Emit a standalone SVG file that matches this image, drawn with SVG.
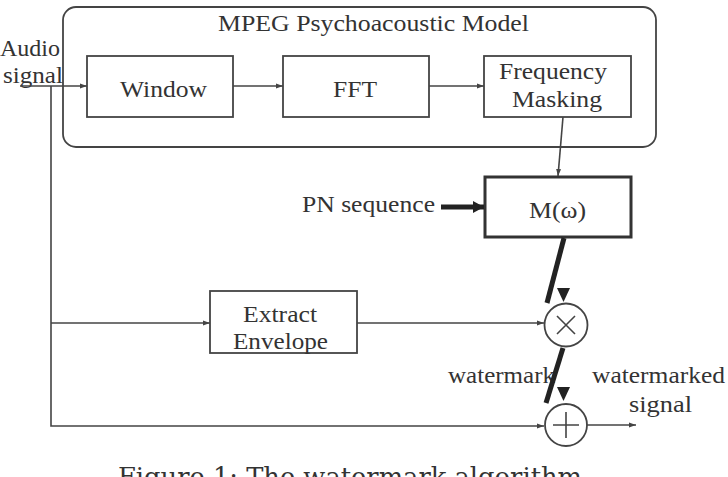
<svg xmlns="http://www.w3.org/2000/svg" width="728" height="477" viewBox="0 0 728 477">
<defs>
<style>
.t{font-family:"Liberation Serif","Times New Roman",serif;font-size:23px;fill:#333}
.cap{font-family:"DejaVu Serif","Liberation Serif",serif;font-size:26px;fill:#333}
.box{fill:none;stroke:#444;stroke-width:1.8}
.thickbox{fill:none;stroke:#333;stroke-width:3}
.ln{fill:none;stroke:#444;stroke-width:1.6}
.thick{fill:none;stroke:#222;stroke-width:5}
.head{fill:#222}
</style>
<marker id="a" markerUnits="userSpaceOnUse" markerWidth="8" markerHeight="6" refX="7" refY="3" orient="auto"><path d="M0,0.5 L7,3 L0,5.5 z" fill="#444"/></marker>
<marker id="ta" markerUnits="userSpaceOnUse" markerWidth="12" markerHeight="12" refX="11" refY="6" orient="auto"><path d="M0,0 L11,6 L0,12 z" fill="#222"/></marker>
</defs>
<rect width="728" height="477" fill="#fff"/>

<g id="psycho-model">
<rect x="63" y="7" width="593" height="140" rx="13" class="box"/>
<text class="t" x="218" y="31" textLength="311" lengthAdjust="spacingAndGlyphs">MPEG Psychoacoustic Model</text>
</g>
<g id="audio-label">
<text class="t" x="0" y="56" textLength="60" lengthAdjust="spacingAndGlyphs">Audio</text>
<text class="t" x="3" y="83" textLength="60" lengthAdjust="spacingAndGlyphs">signal</text>
</g>
<g id="window">
<rect x="87" y="56" width="146" height="61" class="box"/>
<text class="t" x="120" y="97" textLength="87" lengthAdjust="spacingAndGlyphs">Window</text>
</g>
<g id="fft">
<rect x="283" y="56" width="146" height="61" class="box"/>
<text class="t" x="333" y="97" textLength="44" lengthAdjust="spacingAndGlyphs">FFT</text>
</g>
<g id="freq-masking">
<rect x="484" y="56" width="147" height="61" class="box"/>
<text class="t" x="499" y="79" textLength="108" lengthAdjust="spacingAndGlyphs">Frequency</text>
<text class="t" x="512" y="107" textLength="90" lengthAdjust="spacingAndGlyphs">Masking</text>
</g>
<g id="pn-label">
<text class="t" x="302" y="212" textLength="133" lengthAdjust="spacingAndGlyphs">PN sequence</text>
</g>
<g id="m-omega">
<rect x="485" y="177" width="146" height="60" class="thickbox"/>
<text class="t" x="529" y="218" textLength="57" lengthAdjust="spacingAndGlyphs">M(ω)</text>
</g>
<g id="extract-envelope">
<rect x="210" y="291" width="147" height="62" class="box"/>
<text class="t" x="243" y="322" textLength="74" lengthAdjust="spacingAndGlyphs">Extract</text>
<text class="t" x="233" y="349" textLength="95" lengthAdjust="spacingAndGlyphs">Envelope</text>
</g>
<g id="multiply">
<circle cx="566" cy="325" r="21.5" class="box"/>
<path d="M557,316 L575,334 M575,316 L557,334" class="ln"/>
</g>
<g id="add">
<circle cx="566" cy="425" r="21" class="box"/>
<path d="M566,412 V438 M553,425 H579" class="ln"/>
</g>
<g id="labels">
<text class="t" x="448" y="383" textLength="107" lengthAdjust="spacingAndGlyphs">watermark</text>
<text class="t" x="592" y="383" textLength="133" lengthAdjust="spacingAndGlyphs">watermarked</text>
<text class="t" x="629" y="412" textLength="63" lengthAdjust="spacingAndGlyphs">signal</text>
</g>

<g id="connectors">
<path d="M20,86 H87" class="ln" marker-end="url(#a)"/>
<path d="M51,86 V426 H544" class="ln" marker-end="url(#a)"/>
<path d="M233,86 H283" class="ln" marker-end="url(#a)"/>
<path d="M429,86 H484" class="ln" marker-end="url(#a)"/>
<path d="M563,117 L558,176" class="ln" marker-end="url(#a)"/>
<path d="M441,207 H484" class="thick" marker-end="url(#ta)"/>
<path d="M564,238 L547,303" class="thick"/>
<polygon points="557,288 570,288 563.5,302" class="head"/>
<path d="M51,323 H210" class="ln" marker-end="url(#a)"/>
<path d="M357,323 H544" class="ln" marker-end="url(#a)"/>
<path d="M563,348 L546,403" class="thick"/>
<polygon points="557,387 570,387 563.5,401" class="head"/>
<path d="M587,425 H636" class="ln" marker-end="url(#a)"/>
</g>

<g id="caption">
<text class="cap" x="118" y="486" textLength="464" lengthAdjust="spacingAndGlyphs">Figure 1: The watermark algorithm</text>
</g>
</svg>
